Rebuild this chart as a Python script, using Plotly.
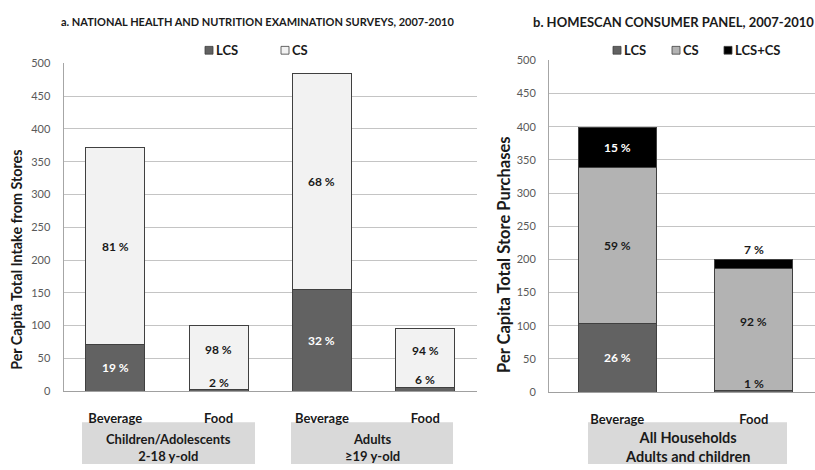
import plotly.graph_objects as go

# ---- Panel a: NHANES 2007-2010 ----
nhanes_types = ["Beverage", "Food", "Beverage", "Food"]
nhanes_groups = ["Children/Adolescents<br>2-18 y-old", "Adults<br>≥19 y-old"]
nhanes_total = [372, 100, 485, 95]
nhanes_lcs_pct = [19, 2, 32, 6]
nhanes_cs_pct = [81, 98, 68, 94]

# ---- Panel b: Homescan 2007-2010 ----
homescan_types = ["Beverage", "Food"]
homescan_groups = ["All Households<br>Adults and children"]
homescan_total = [399, 200]
homescan_lcs_pct = [26, 1]
homescan_cs_pct = [59, 92]
homescan_both_pct = [15, 7]

y_ticks = [0, 50, 100, 150, 200, 250, 300, 350, 400, 450, 500]

W, H = 815, 470
FONT = "Lato"
C_LCS = "#626262"
C_CS_A = "#f2f2f2"
C_CS_B = "#b3b3b3"
C_BOTH = "#000000"
EDGE = "#404040"
TXT = "#1a1a1a"


def px(x):
    return x / W


def py(y):
    return 1 - y / H


def seg(total, pct):
    return [t * p / 100 for t, p in zip(total, pct)]


fig = go.Figure()

xa = list(range(len(nhanes_types)))
xb = list(range(len(homescan_types)))

a_lcs = seg(nhanes_total, nhanes_lcs_pct)
a_cs = seg(nhanes_total, nhanes_cs_pct)
b_lcs = seg(homescan_total, homescan_lcs_pct)
b_cs = seg(homescan_total, homescan_cs_pct)
b_both = seg(homescan_total, homescan_both_pct)

bar_w = 0.57
for xs, vals, col, xaxis, yaxis in [
    (xa, a_lcs, C_LCS, "x", "y"),
    (xa, a_cs, C_CS_A, "x", "y"),
    (xb, b_lcs, C_LCS, "x2", "y2"),
    (xb, b_cs, C_CS_B, "x2", "y2"),
    (xb, b_both, C_BOTH, "x2", "y2"),
]:
    fig.add_trace(go.Bar(
        x=xs, y=vals, width=bar_w, xaxis=xaxis, yaxis=yaxis,
        marker=dict(color=col, line=dict(color=EDGE, width=1)),
        showlegend=False, hoverinfo="skip",
    ))

annotations = []
shapes = []


def text_at(x, y, text, size, **kw):
    d = dict(x=x, y=y, xref="paper", yref="paper", text=text, showarrow=False,
             xanchor="center", yanchor="middle",
             font=dict(family=FONT, size=size, color=TXT, weight="bold"))
    d.update(kw)
    annotations.append(d)


def label_bars(xs, segments, xref, yref):
    """segments: list of (values, pcts, text colour) from bottom to top."""
    for i, x in enumerate(xs):
        base = 0
        prev_small = False
        n = len(segments)
        for k, (vals, pcts, tcol) in enumerate(segments):
            v = vals[i]
            small = v < 20
            if small and k == 0:
                y, anchor, shift, col = base + v, "bottom", -2, TXT
            elif small and k == n - 1:
                y, anchor, shift, col = base + v, "bottom", 0, TXT
            else:
                y, anchor, shift, col = base + v / 2, "middle", (8 if prev_small else 0), tcol
            annotations.append(dict(
                x=x, y=y, xref=xref, yref=yref, text=f"{pcts[i]} %",
                showarrow=False, xanchor="center", yanchor=anchor, yshift=shift,
                font=dict(family=FONT, size=12, color=col, weight="bold"),
            ))
            prev_small = small
            base += v


label_bars(xa, [(a_lcs, nhanes_lcs_pct, "white"), (a_cs, nhanes_cs_pct, TXT)], "x", "y")
label_bars(xb, [(b_lcs, homescan_lcs_pct, "white"), (b_cs, homescan_cs_pct, TXT),
                (b_both, homescan_both_pct, "white")], "x2", "y2")

# panel titles
text_at(px(257), py(15), "a. NATIONAL HEALTH AND NUTRITION EXAMINATION SURVEYS, 2007-2010", 11)
text_at(px(673), py(15), "b. HOMESCAN CONSUMER PANEL, 2007-2010", 13)

# y-axis titles
text_at(px(17), py(260), "Per Capita Total Intake from Stores", 14.3, textangle=-90)
text_at(px(504), py(255), "Per Capita Total Store Purchases", 16.5, textangle=-90)


# legends
def legend_item(x0, label, color):
    shapes.append(dict(type="rect", xref="paper", yref="paper",
                       x0=px(x0), x1=px(x0 + 8), y0=py(48.5), y1=py(40.5),
                       fillcolor=color, line=dict(color=EDGE, width=0.8)))
    text_at(px(x0 + 9), py(44.5), label, 13, xanchor="left")


legend_item(205, "LCS", C_LCS)
legend_item(281, "CS", C_CS_A)
legend_item(613, "LCS", C_LCS)
legend_item(672, "CS", C_CS_B)
legend_item(724, "LCS+CS", C_BOTH)

# group boxes below the category labels
boxes = [
    (82, 255, 427, nhanes_groups[0], 13),
    (291, 453, 427, nhanes_groups[1], 13),
    (588, 787, 427, homescan_groups[0], 14.5),
]
for x0, x1, y0, txt, fs in boxes:
    shapes.append(dict(type="rect", xref="paper", yref="paper",
                       x0=px(x0), x1=px(x1), y0=py(470), y1=py(y0),
                       fillcolor="#d9d9d9", line=dict(width=0), layer="below"))
    text_at(px((x0 + x1) / 2), py(453), txt, fs)

yaxis_common = dict(
    range=[0, 500], tickvals=y_ticks, showgrid=True, gridcolor="#c4c4c4", gridwidth=1,
    showline=True, linecolor="#a6a6a6", linewidth=1, ticks="", zeroline=False,
    tickfont=dict(family=FONT, size=11, color="#595959"), ticklabelstandoff=10,
    fixedrange=True,
)
xaxis_common = dict(
    showgrid=False, showline=True, linecolor="#a0a0a0", linewidth=1, ticks="",
    zeroline=False, tickfont=dict(family=FONT, size=13, color=TXT, weight="bold"),
    ticklabelstandoff=15, fixedrange=True,
)

fig.update_layout(
    width=W, height=H, margin=dict(l=0, r=0, t=0, b=0),
    paper_bgcolor="white", plot_bgcolor="white",
    barmode="stack", showlegend=False,
    xaxis=dict(domain=[px(63.5), px(477)], range=[-0.5, 3.5],
               tickvals=xa, ticktext=nhanes_types, anchor="y", **xaxis_common),
    yaxis=dict(domain=[py(395), py(58)], anchor="x", **yaxis_common),
    xaxis2=dict(domain=[px(549), 1.0], range=[-0.5, 1.449],
                tickvals=xb, ticktext=homescan_types, anchor="y2", **xaxis_common),
    yaxis2=dict(domain=[py(396), py(55)], anchor="x2", **yaxis_common),
    annotations=annotations, shapes=shapes,
)

fig.write_html("out.html")
